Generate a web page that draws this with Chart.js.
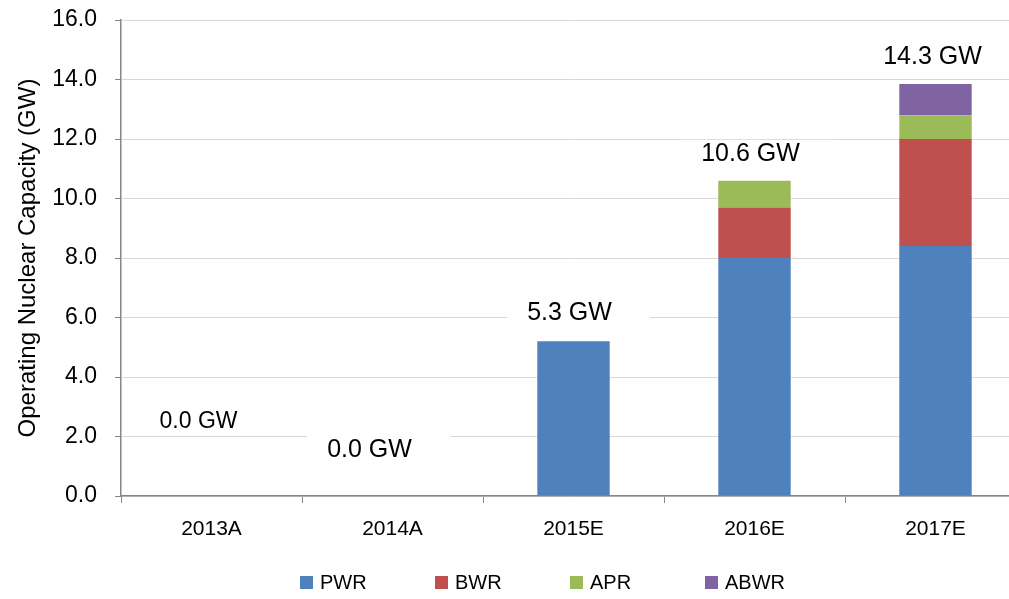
<!DOCTYPE html>
<html>
<head>
<meta charset="utf-8">
<script src="https://cdn.jsdelivr.net/npm/chart.js@4/dist/chart.umd.min.js"></script>
<style>
  body { margin: 0; overflow: hidden; background: #fff; }
  #wrap { position: relative; width: 1009px; height: 599px; overflow: hidden; }
  #legend { position: absolute; left: 300px; top: 571px; display: flex; font-family: "Liberation Sans", Arial, sans-serif; font-size: 20px; color: #000; }
  #legend .item { width: 135px; display: flex; align-items: center; }
  #legend .box { width: 13px; height: 13px; margin-right: 7px; }
</style>
</head>
<body>
<div id="wrap">
  <canvas id="nuclearChart" width="1028" height="599"></canvas>
  <div id="legend"></div>
</div>
<script>
// Dados do gráfico
const categories = ['2013A', '2014A', '2015E', '2016E', '2017E'];
const pwr = [0, 0, 5.2, 8.0, 8.4];
const bwr = [0, 0, 0, 1.7, 3.6];
const apr = [0, 0, 0, 0.9, 0.8];
const abwr = [0, 0, 0, 0, 1.05];
const totalLabels = ['0.0 GW', '0.0 GW', '5.3 GW', '10.6 GW', '14.3 GW'];
// nível (em GW) onde cada rótulo de total fica
const labelLevels = [2.49, 1.55, 6.15, 11.5, 14.75];
const yMax = 16;
const yStep = 2;

const seriesNames = ['PWR', 'BWR', 'APR', 'ABWR'];
const seriesColors = ['#4F81BD', '#C0504D', '#9BBB59', '#8064A2'];
const seriesData = [pwr, bwr, apr, abwr];

// deslocamento horizontal dos rótulos e tamanho da fonte
const labelDx = [-13, -23, -4, -4, -3];
const labelSize = [23, 25, 25, 25, 25];

// Plugin para desenhar os rótulos de total com fundo branco
const totalLabelPlugin = {
  id: 'totalLabels',
  afterDatasetsDraw(chart) {
    const ctx = chart.ctx;
    const x = chart.scales.x;
    const y = chart.scales.y;
    ctx.save();
    totalLabels.forEach((txt, i) => {
      const size = labelSize[i];
      ctx.font = size + 'px "Liberation Sans", Arial, sans-serif';
      const cx = x.getPixelForValue(i) + labelDx[i];
      const cy = y.getPixelForValue(labelLevels[i]);
      const w = ctx.measureText(txt).width;
      const h = size - 11;
      ctx.fillStyle = '#ffffff';
      ctx.fillRect(cx - w / 2 - 20, cy - h, w + 58, h * 2);
      ctx.fillStyle = '#000000';
      ctx.textAlign = 'center';
      ctx.textBaseline = 'middle';
      ctx.fillText(txt, cx, cy);
    });
    ctx.restore();
  }
};

const ctx = document.getElementById('nuclearChart').getContext('2d');
const nuclearChart = new Chart(ctx, {
  type: 'bar',
  data: {
    labels: categories,
    datasets: seriesNames.map((name, i) => ({
      label: name,
      data: seriesData[i],
      backgroundColor: seriesColors[i],
      borderWidth: 0,
      categoryPercentage: 1,
      barPercentage: 0.4
    }))
  },
  options: {
    responsive: false,
    animation: false,
    devicePixelRatio: 1,
    layout: { padding: { top: 20, right: 2, bottom: 53, left: 0 } },
    plugins: {
      legend: { display: false },
      tooltip: { enabled: false }
    },
    scales: {
      x: {
        stacked: true,
        grid: {
          offset: true,
          drawOnChartArea: false,
          drawTicks: true,
          tickLength: 7,
          tickColor: '#868686'
        },
        border: { color: '#868686', width: 1.5 },
        ticks: {
          color: '#000',
          padding: 14,
          font: { family: '"Liberation Sans", Arial, sans-serif', size: 21 }
        },
        afterFit(scale) { scale.height = 50; }
      },
      y: {
        stacked: true,
        min: 0,
        max: yMax,
        grid: {
          color: '#d9d9d9',
          tickColor: '#868686',
          tickLength: 6
        },
        border: { color: '#868686', width: 1.5 },
        ticks: {
          stepSize: yStep,
          color: '#000',
          padding: 18,
          font: { family: '"Liberation Sans", Arial, sans-serif', size: 23 },
          callback: v => v.toFixed(1)
        },
        title: {
          display: true,
          text: 'Operating Nuclear Capacity (GW)',
          color: '#000',
          padding: { top: 14, bottom: 0 },
          font: { family: '"Liberation Sans", Arial, sans-serif', size: 24 }
        },
        afterFit(scale) {
          scale.width = 121;
          scale.paddingTop = 0;
          scale.paddingBottom = 0;
        }
      }
    }
  },
  plugins: [totalLabelPlugin]
});

// Legenda em HTML
const legend = document.getElementById('legend');
seriesNames.forEach((name, i) => {
  const item = document.createElement('div');
  item.className = 'item';
  item.innerHTML = '<span class="box" style="background:' + seriesColors[i] + '"></span>' + name;
  legend.appendChild(item);
});
</script>
</body>
</html>
